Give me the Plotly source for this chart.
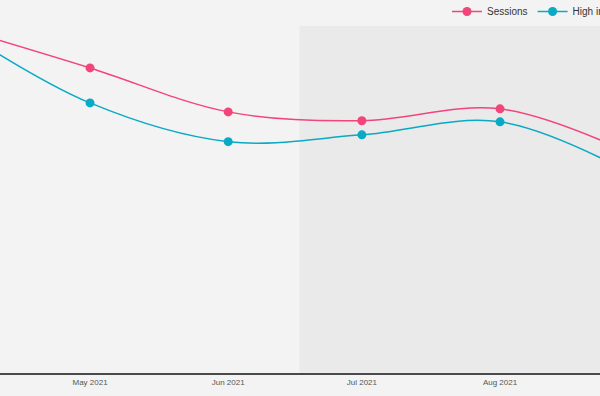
import plotly.graph_objects as go

months = ["2021-04-01", "2021-05-01", "2021-06-01", "2021-07-01", "2021-08-01", "2021-09-01"]
sessions = [11950, 10550, 9030, 8725, 9135, 7480]
high_intent = [11950, 9340, 8000, 8235, 8685, 6780]

series_names = ["Sessions", "High intent sessions"]
series_colors = ["#f2457a", "#0aa9c4"]

x_range = ["2021-04-10 19:00", "2021-08-23 10:30"]
shade_start = "2021-06-17"
shade_end = "2021-09-30"

fig = go.Figure()
for name, vals, col in zip(series_names, [sessions, high_intent], series_colors):
    fig.add_trace(go.Scatter(
        x=months, y=vals, name=name, mode="lines+markers",
        line=dict(color=col, width=1.5, shape="spline"),
        marker=dict(color=col, size=9),
        cliponaxis=True,
    ))

fig.add_shape(type="rect", xref="x", yref="paper", x0=shade_start, x1=shade_end,
              y0=0, y1=1, fillcolor="#eaeaea", line=dict(width=0), layer="below")

fig.update_layout(
    width=600, height=396,
    margin=dict(l=0, r=0, t=26, b=23, autoexpand=False),
    paper_bgcolor="#f3f3f3", plot_bgcolor="#f3f3f3",
    font=dict(family="Arial, Liberation Sans, sans-serif", color="#333"),
    showlegend=True,
    legend=dict(orientation="h", x=0.745, xanchor="left", y=1.0, yanchor="bottom",
                font=dict(size=10, color="#333"), bgcolor="rgba(0,0,0,0)"),
    xaxis=dict(range=x_range, type="date", dtick="M1", tick0="2021-01-01",
               tickformat="%b %Y", showgrid=False, zeroline=False,
               showline=True, linecolor="#4a4a4a", linewidth=2, ticks="",
               tickfont=dict(size=8, color="#555")),
    yaxis=dict(range=[0, 12000], visible=False, showgrid=False, zeroline=False),
)

fig.write_html("out.html", config={"displayModeBar": False},
               post_script="document.body.style.margin='0';document.body.style.background='#f3f3f3';")
